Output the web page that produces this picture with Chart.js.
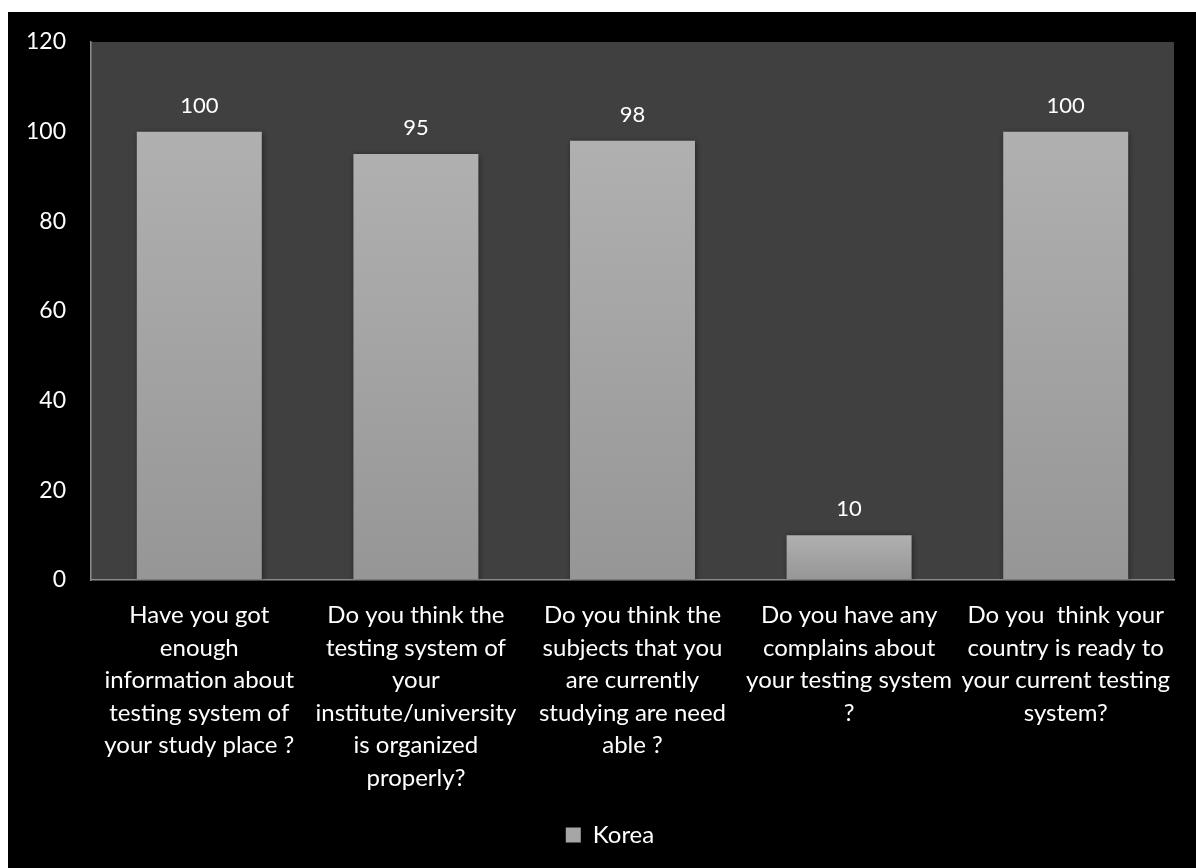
<!DOCTYPE html>
<html><head><meta charset="utf-8">
<script src="https://cdn.jsdelivr.net/npm/chart.js@4"></script>
<style>
html,body{margin:0;padding:0;background:#fff;}
#wrap{position:absolute;left:8px;top:12px;width:1188px;height:856px;background:#000;}
canvas{display:block;}
</style></head><body>
<div id="wrap"><canvas id="c" width="1188" height="856"></canvas></div>
<script>
const categories = [
  ["Have you got", "enough", "information about", "testing system of", "your study place ?"],
  ["Do you think the", "testing system of", "your", "institute/university", "is organized", "properly?"],
  ["Do you think the", "subjects that you", "are currently", "studying are need", "able ?"],
  ["Do you have any", "complains about", "your testing system", "?"],
  ["Do you  think your", "country is ready to", "your current testing", "system?"]
];
const seriesName = "Korea";
const koreaValues = [100, 95, 98, 10, 100];
const yMin = 0, yMax = 120, yStep = 20;

const FONT = "Lato, 'Open Sans', sans-serif";

const plotBg = {
  id: 'plotBg',
  beforeDraw(chart) {
    const {ctx, chartArea: a} = chart;
    ctx.save();
    ctx.fillStyle = '#404040';
    ctx.fillRect(a.left, a.top, a.right - a.left, a.bottom - a.top);
    ctx.restore();
  }
};
const legendShift = {
  id: 'legendShift',
  afterLayout(chart) {
    if (chart.legend) {
      chart.legend.left += 38;
      chart.legend.right += 0;
    }
  }
};
const barShadow = {
  id: 'barShadow',
  beforeDatasetsDraw(chart) {
    const ctx = chart.ctx;
    ctx.save();
    ctx.shadowColor = 'rgba(0,0,0,0.45)';
    ctx.shadowBlur = 6;
    ctx.shadowOffsetX = 1;
    ctx.shadowOffsetY = 1;
  },
  afterDatasetsDraw(chart) { chart.ctx.restore(); }
};
const valueLabels = {
  id: 'valueLabels',
  afterDatasetsDraw(chart) {
    const ctx = chart.ctx;
    ctx.save();
    ctx.shadowColor = 'transparent';
    ctx.fillStyle = '#ffffff';
    ctx.font = "22px " + FONT;
    ctx.textAlign = 'center';
    ctx.textBaseline = 'middle';
    chart.getDatasetMeta(0).data.forEach((bar, i) => {
      ctx.fillText(String(chart.data.datasets[0].data[i]), bar.x, bar.y - 26);
    });
    ctx.restore();
  }
};

function barGradient(context) {
  const chart = context.chart;
  const area = chart.chartArea;
  if (!area) return '#a6a6a6';
  if (context.type !== 'data') {
    return '#a6a6a6';
  }
  const ys = chart.scales.y;
  const top = ys.getPixelForValue(context.parsed.y);
  const bottom = ys.getPixelForValue(0);
  const g = chart.ctx.createLinearGradient(0, top, 0, bottom);
  g.addColorStop(0, '#b0b0b0');
  g.addColorStop(1, '#969696');
  return g;
}

new Chart(document.getElementById('c'), {
  type: 'bar',
  data: {
    labels: categories,
    datasets: [{
      label: seriesName,
      data: koreaValues,
      backgroundColor: barGradient,
      borderWidth: 0,
      barPercentage: 0.577,
      categoryPercentage: 1.0
    }]
  },
  options: {
    responsive: false,
    animation: false,
    layout: { padding: { top: 30, right: 22, left: 0, bottom: 11 } },
    plugins: {
      tooltip: { enabled: false },
      legend: {
        position: 'bottom',
        labels: {
          color: '#ffffff',
          font: { family: FONT, size: 24 },
          boxWidth: 15,
          boxHeight: 15,
          padding: 10,
          generateLabels(chart) {
            return [{ text: seriesName, fillStyle: '#a6a6a6', strokeStyle: '#a6a6a6', lineWidth: 0, hidden: false, datasetIndex: 0, fontColor: '#ffffff' }];
          }
        }
      }
    },
    scales: {
      x: {
        grid: { display: false, drawTicks: false },
        border: { display: true, color: '#8c8c8c', width: 1.5 },
        ticks: {
          color: '#ffffff',
          font: { family: FONT, size: 24, lineHeight: 1.358 },
          padding: 19,
          maxRotation: 0,
          minRotation: 0,
          autoSkip: false
        },
        afterFit(scale) { scale.height = 233; }
      },
      y: {
        min: yMin, max: yMax,
        grid: { display: true, drawOnChartArea: false, drawTicks: true, tickLength: 25, color: 'rgba(0,0,0,0)' },
        border: { display: true, color: '#8c8c8c', width: 1.5 },
        ticks: {
          stepSize: yStep,
          color: '#ffffff',
          font: { family: FONT, size: 23 },
          padding: 0
        },
        afterFit(scale) { scale.width = 83; }
      }
    }
  },
  plugins: [plotBg, legendShift, barShadow, valueLabels]
});
</script>
</body></html>
